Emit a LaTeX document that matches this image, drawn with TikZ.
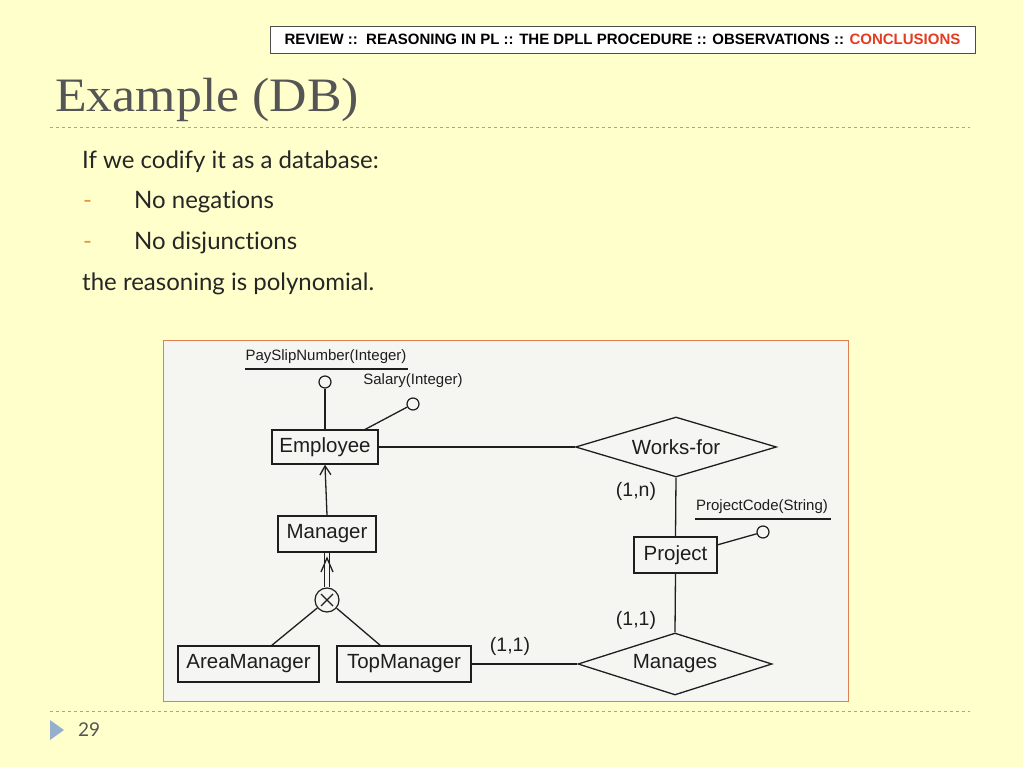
\documentclass[tikz,border=0pt]{standalone}
\usepackage{fontspec}
\setmainfont{Liberation Serif}
\newfontfamily\titlefont[FakeStretch=1.08]{Liberation Serif}
\newfontfamily\arial{Liberation Sans}
\newfontfamily\body[Ligatures=NoCommon]{Lato}
\usetikzlibrary{shapes.geometric,arrows.meta,calc}
\definecolor{bg}{RGB}{255,255,204}
\definecolor{frameor}{RGB}{222,128,80}
\definecolor{hdrred}{RGB}{228,60,30}
\definecolor{titlegray}{RGB}{85,85,85}
\definecolor{dashgray}{RGB}{165,165,150}
\definecolor{bullet}{RGB}{225,150,60}
\definecolor{tri}{RGB}{150,175,205}
\definecolor{paper}{RGB}{245,245,241}
\definecolor{ink}{RGB}{30,30,30}
\tikzset{
  ent/.style={draw=ink, line width=1.3pt, fill=paper, inner sep=0pt, font=\arial\fontsize{20.5}{24}\selectfont, text=ink},
  rel/.style={draw=ink, line width=1.3pt, fill=paper, diamond, aspect=3.3, inner sep=0pt, font=\arial\fontsize{20.5}{24}\selectfont, text=ink},
  attr/.style={draw=ink, line width=1.2pt, fill=paper, circle, minimum size=12pt, inner sep=0pt},
  lab/.style={font=\arial\fontsize{15}{17}\selectfont, text=ink, inner sep=0pt},
  card/.style={font=\arial\fontsize{19.5}{22}\selectfont, text=ink, inner sep=0pt},
  conn/.style={draw=ink, line width=1.3pt},
  body/.style={font=\body\fontsize{24}{28}\selectfont, text=black!85, anchor=base west, inner sep=0pt},
}
\begin{document}
\begin{tikzpicture}[x=1pt,y=-1pt]
\fill[bg] (0,0) rectangle (1023,767);
\useasboundingbox (0,0) rectangle (1023,767);
% header
\node[draw=black!70, fill=white, line width=0.8pt, minimum width=705pt, minimum height=27pt, inner sep=0pt, anchor=center, font=\arial\bfseries\fontsize{15}{17}\selectfont] (hdr) at (622.5,39.5)
  {REVIEW ::\ \ REASONING IN PL :: THE DPLL PROCEDURE :: OBSERVATIONS :: \textcolor{hdrred}{CONCLUSIONS}};
% title
\node[anchor=base west, inner sep=0pt, text=titlegray, font=\titlefont\fontsize{48}{52}\selectfont] (title) at (55,112) {Example (DB)};
\draw[dashgray, dashed, line width=0.8pt] (50,127) -- (970,127);
% body text
\node[body] (t1) at (82,169) {If we codify it as a database:};
\node[body, text=bullet] (d1) at (83,209) {-};
\node[body] (t2) at (134,209) {No negations};
\node[body, text=bullet] (d2) at (83,250) {-};
\node[body] (t3) at (134,250) {No disjunctions};
\node[body] (t4) at (82,291) {the reasoning is polynomial.};
% image frame
\draw[frameor, fill=paper, line width=1pt] (163,341) rectangle (848,701);
% footer
\draw[dashgray, dashed, line width=0.8pt] (50,711) -- (970,711);
\fill[tri] (50,720) -- (64,730) -- (50,740) -- cycle;
\node[anchor=west, inner sep=0pt, text=titlegray, font=\body\fontsize{19}{22}\selectfont] (pg) at (78,730) {29};
% ER diagram
\node[ent, minimum width=106pt, minimum height=34pt] (emp) at (325,447) {Employee};
\node[ent, minimum width=98pt, minimum height=36pt] (mgr) at (327,534) {Manager};
\node[ent, minimum width=141pt, minimum height=36pt] (am) at (248.5,664) {AreaManager};
\node[ent, minimum width=134pt, minimum height=36pt] (tm) at (404,664) {TopManager};
\node[ent, minimum width=83pt, minimum height=36pt] (proj) at (675.5,555) {Project};
\node[rel, minimum width=201pt, minimum height=60pt] (wf) at (676,447) {Works-for};
\node[rel, minimum width=194pt, minimum height=62pt] (man) at (675,664) {Manages};
% attributes
\node[lab] (psn) at (326,357) {PaySlipNumber(Integer)};
\draw[ink, line width=1.1pt] (245,369) -- (408,369);
\node[attr] (a1) at (325,382) {};
\node[lab] (sal) at (413,381) {Salary(Integer)};
\node[attr] (a2) at (413,404) {};
\node[lab] (pc) at (762,507) {ProjectCode(String)};
\draw[ink, line width=1.1pt] (695,519) -- (831,519);
\node[attr] (a3) at (763,532) {};
\coordinate (e1) at (325,430);
\coordinate (e2) at (364,430);
\coordinate (p1) at (717,545);
\draw[conn] (a1) -- (e1);
\draw[conn] (a2) -- (e2);
\draw[conn] (a3) -- (p1);
% relationships
\draw[conn] (emp.east) -- (wf.west);
\draw[conn] (wf.south) -- (proj.north);
\draw[conn] (proj.south) -- (man.north);
\draw[conn] (tm.east) -- (man.west);
\node[card] (c1) at (636,491) {(1,n)};
\node[card] (c2) at (636,620) {(1,1)};
\node[card] (c3) at (510,646) {(1,1)};
% generalization
\draw[conn, -{Straight Barb[length=9pt,width=11pt,line width=1.3pt]}] (mgr.north) -- (emp.south);
\node[attr, minimum size=24pt] (x) at (327,600) {};
\draw[ink, line width=1.2pt] ($(x.center)+(-6,-6)$) -- ($(x.center)+(6,6)$);
\draw[ink, line width=1.2pt] ($(x.center)+(-6,6)$) -- ($(x.center)+(6,-6)$);
\coordinate (amt) at (271,646);
\coordinate (tmt) at (381,646);
\draw[conn] (x) -- (amt);
\draw[conn] (x) -- (tmt);
\draw[ink, line width=1.2pt] ([xshift=-2.2pt]x.north) -- ([xshift=-2.2pt]mgr.south);
\draw[ink, line width=1.2pt] ([xshift=2.2pt]x.north) -- ([xshift=2.2pt]mgr.south);
\coordinate (gtip) at (327,558);
\draw[ink, line width=1.3pt] (321,572) -- (gtip) -- (333,572);
\end{tikzpicture}
\end{document}
